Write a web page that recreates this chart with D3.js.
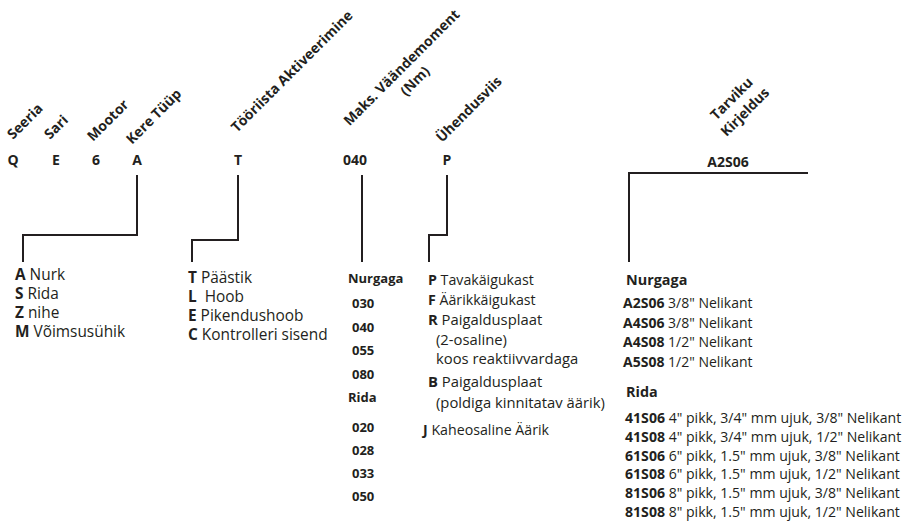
<!DOCTYPE html>
<html>
<head>
<meta charset="utf-8">
<script src="https://cdn.jsdelivr.net/npm/d3@7"></script>
<style>
  body { margin: 0; background: #fff; }
  text { font-family: "Open Sans", "Noto Sans", sans-serif; fill: #231f20; }
  .b { font-weight: bold; }
</style>
</head>
<body>
<div id="chart"></div>
<script>
// model code segments, left to right
const codes = ["Q", "E", "6", "A", "T", "040", "P", "A2S06"];
const headers = [["Seeria"], ["Sari"], ["Mootor"], ["Kere Tüüp"], ["Tööriista Aktiveerimine"],
                 ["Maks. Väändemoment", "(Nm)"], ["Ühendusviis"], ["Tarviku", "Kirjeldus"]];

// option lists under the connectors
const kereTyyp = [["A", " Nurk"], ["S", " Rida"], ["Z", " nihe"], ["M", " Võimsusühik"]];
const aktiveerimine = [["T", " Päästik"], ["L", " Hoob"], ["E", " Pikendushoob"], ["C", " Kontrolleri sisend"]];
const momentNurgaga = ["030", "040", "055", "080"];
const momentRida = ["020", "028", "033", "050"];
const yhendus = [["P", " Tavakäigukast"], ["F", " Äärikkäigukast"], ["R", " Paigaldusplaat"],
                 ["", "(2-osaline)"], ["", "koos reaktiivvardaga"], ["B", " Paigaldusplaat"],
                 ["", "(poldiga kinnitatav äärik)"], ["J", " Kaheosaline Äärik"]];
const tarvikNurgaga = [["A2S06", " 3/8\" Nelikant"], ["A4S06", " 3/8\" Nelikant"],
                       ["A4S08", " 1/2\" Nelikant"], ["A5S08", " 1/2\" Nelikant"]];
const tarvikRida = [["41S06", " 4\" pikk, 3/4\" mm ujuk, 3/8\" Nelikant"],
                    ["41S08", " 4\" pikk, 3/4\" mm ujuk, 1/2\" Nelikant"],
                    ["61S06", " 6\" pikk, 1.5\" mm ujuk, 3/8\" Nelikant"],
                    ["61S08", " 6\" pikk, 1.5\" mm ujuk, 1/2\" Nelikant"],
                    ["81S06", " 8\" pikk, 1.5\" mm ujuk, 3/8\" Nelikant"],
                    ["81S08", " 8\" pikk, 1.5\" mm ujuk, 1/2\" Nelikant"]];

const width = 914, height = 523;
const svg = d3.select("#chart").append("svg").attr("width", width).attr("height", height);
const defs = svg.append("defs");

// layout
const codeX = [13, 56, 96, 137, 238, 355, 447, 728];
const codeY = 165;
const headAnchor = [[13, 140], [50, 140], [93, 142], [132, 145], [237, 133], [405, 71], [442, 143], [735, 102]];
const lineGap = 19;
const line = d3.line();

// headers run up-right at 45deg, laid out along diagonal paths
headers.forEach((lines, i) => {
    const [hx, hy] = headAnchor[i];
    const centred = lines.length > 1;
    lines.forEach((t, j) => {
        const off = j * lineGap * Math.SQRT1_2;
        const x = hx + off, y = hy + off, L = 220;
        const pts = centred ? [[x - L, y + L], [x + L, y - L]] : [[x, y], [x + L, y - L]];
        const id = "hp" + i + "_" + j;
        defs.append("path").attr("id", id).attr("d", line(pts));
        svg.append("text").attr("class", "b").attr("font-size", 14)
            .attr("text-anchor", centred ? "middle" : "start")
            .append("textPath").attr("href", "#" + id)
            .attr("startOffset", centred ? "50%" : "0%")
            .text(t);
    });
});

// code row
svg.selectAll(".code").data(codes).enter().append("text")
    .attr("class", "code b")
    .attr("x", (d, i) => codeX[i]).attr("y", (d, i) => i === 7 ? codeY + 2 : codeY)
    .attr("text-anchor", "middle").attr("font-size", 14)
    .text(d => d);

// connectors
const yTop = 175, yBend = 235, yBottom = 262;
const connectors = [
    [[137, yTop], [137, yBend], [23, yBend], [23, yBottom]],
    [[238, yTop], [238, 240], [192, 240], [192, yBottom]],
    [[362, yTop], [362, yBottom]],
    [[447, yTop], [447, yBend], [429, yBend], [429, yBottom]],
    [[808, 173], [629, 173], [629, yBottom]]
];
svg.selectAll(".conn").data(connectors).enter().append("path")
    .attr("d", line).attr("fill", "none").attr("stroke", "#231f20").attr("stroke-width", 2);

// helper: bold key + regular label
function keyed(rows, x, ys, size) {
    rows.forEach((r, i) => {
        const t = svg.append("text").attr("x", x).attr("y", ys(i)).attr("font-size", size);
        t.append("tspan").attr("class", "b").text(r[0]);
        t.append("tspan").attr("dx", r[0] === "L" ? 4 : 0).text(r[1]);
    });
}

keyed(kereTyyp, 15, d3.scaleLinear().domain([0, 1]).range([280, 299]), 15.4);
keyed(aktiveerimine, 188, d3.scaleLinear().domain([0, 1]).range([283, 302]), 15.4);

// torque column
svg.append("text").attr("class", "b").attr("x", 348).attr("y", 283).attr("font-size", 13).text("Nurgaga");
const yNurg = d3.scaleLinear().domain([0, 1]).range([308, 331.5]);
svg.selectAll(".mn").data(momentNurgaga).enter().append("text").attr("class", "b")
    .attr("x", 352).attr("y", (d, i) => yNurg(i)).attr("font-size", 13).text(d => d);
svg.append("text").attr("class", "b").attr("x", 348).attr("y", 402).attr("font-size", 13).text("Rida");
const yRida = d3.scaleLinear().domain([0, 1]).range([432, 455]);
svg.selectAll(".mr").data(momentRida).enter().append("text").attr("class", "b")
    .attr("x", 352).attr("y", (d, i) => yRida(i)).attr("font-size", 13).text(d => d);

// connection column
const yhY = [285, 305, 325, 345, 364, 387, 408, 435];
yhendus.forEach((r, i) => {
    const big = r[0] === "R" || r[0] === "B" || r[0] === "";
    const t = svg.append("text").attr("x", r[0] === "" ? 436 : (r[0] === "J" ? 423 : 428))
        .attr("y", yhY[i]).attr("font-size", big ? 14.8 : 14.2);
    t.append("tspan").attr("class", "b").text(r[0]);
    t.append("tspan").text(r[1]);
});

// accessory column
svg.append("text").attr("class", "b").attr("x", 626).attr("y", 285).attr("font-size", 14.4).text("Nurgaga");
keyed(tarvikNurgaga, 623, d3.scaleLinear().domain([0, 1]).range([308, 327.5]), 14);
svg.append("text").attr("class", "b").attr("x", 626).attr("y", 397).attr("font-size", 14.4).text("Rida");
keyed(tarvikRida, 625, d3.scaleLinear().domain([0, 1]).range([423, 441.8]), 14.1);
</script>
</body>
</html>
